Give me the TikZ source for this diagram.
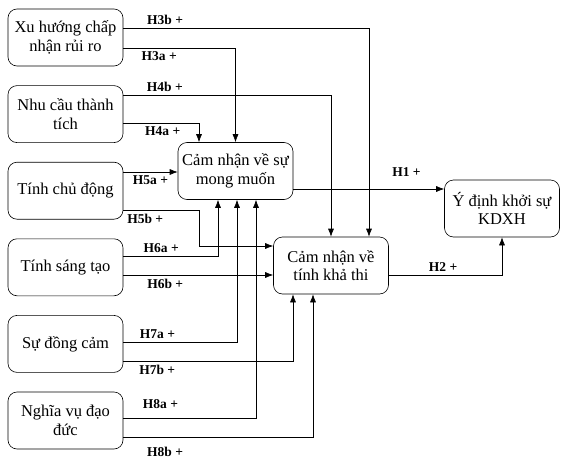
\documentclass[tikz,border=0pt]{standalone}
\usepackage{fontspec}
\setmainfont{Liberation Serif}
\usetikzlibrary{positioning, arrows.meta}
\begin{document}
\begin{tikzpicture}[-{Latex[length=8pt, width=6pt]}, x=1pt, y=-1pt, line width=0.6pt,
    main node/.style={draw, rounded corners=9pt, minimum width=115pt, minimum height=57pt, align=center, font=\fontsize{16.5}{18.5}\selectfont},
    hyp/.style={font=\fontsize{13.5}{15}\selectfont\bfseries}]
    \useasboundingbox (0,0) rectangle (566,461);
    % left column
    \node[main node] (1) at (65.5,37.5) {Xu hướng chấp\\nhận rủi ro};
    \node[main node] (2) [below=19pt of 1] {Nhu cầu thành\\tích};
    \node[main node] (3) [below=19pt of 2] {Tính chủ động};
    \node[main node] (4) [below=19pt of 3] {Tính sáng tạo};
    \node[main node] (5) [below=19pt of 4] {Sự đồng cảm};
    \node[main node] (6) [below=19pt of 5] {Nghĩa vụ đạo\\đức};
    % mediators and outcome
    \node[main node] (7) at (235.5,171) {Cảm nhận về sự\\mong muốn};
    \node[main node] (8) at (331,265.5) {Cảm nhận về\\tính khả thi};
    \node[main node] (9) at (502,208.5) {Ý định khởi sự\\KDXH};
    \draw (1.east |- 0,28) -| node[hyp, above, pos=.085] {H3b +} (8.north -| 369,0);
    \draw (1.east |- 0,48) -| node[hyp, below, pos=.16] {H3a +} (7.north);
    \draw (2.east |- 0,95) -| node[hyp, above, pos=.1] {H4b +} (8.north);
    \draw (2.east |- 0,123) -| node[hyp, below, pos=.26] {H4a +} (7.north -| 199,0);
    \draw (3.east |- 0,172) -- node[hyp, below, pos=.5] {H5a +} (7.west |- 0,172);
    \draw (3.east |- 0,210) -| node[hyp, below, pos=.145] {H5b +} (199,246) -- (8.west |- 0,246);
    \draw (4.east |- 0,256) -| node[hyp, above, pos=.2] {H6a +} (7.south -| 218,0);
    \draw (4.east |- 0,275) -- node[hyp, below, pos=.28] {H6b +} (8.west |- 0,275);
    \draw (5.east |- 0,342) -| node[hyp, above, pos=.15] {H7a +} (7.south -| 237,0);
    \draw (5.east |- 0,361) -| node[hyp, below, pos=.1] {H7b +} (8.south -| 293,0);
    \draw (6.east |- 0,418) -| node[hyp, above=6pt, pos=.14] {H8a +} (7.south -| 256,0);
    \draw (6.east |- 0,437) -| node[hyp, below=6pt, pos=.11] {H8b +} (8.south -| 313,0);
    \draw (7.east |- 0,189) -- node[hyp, above=9pt, pos=.75] {H1 +} (9.west |- 0,189);
    \draw (8.east |- 0,275) -| node[hyp, above, pos=.24] {H2 +} (9.south);
\end{tikzpicture}
\end{document}
